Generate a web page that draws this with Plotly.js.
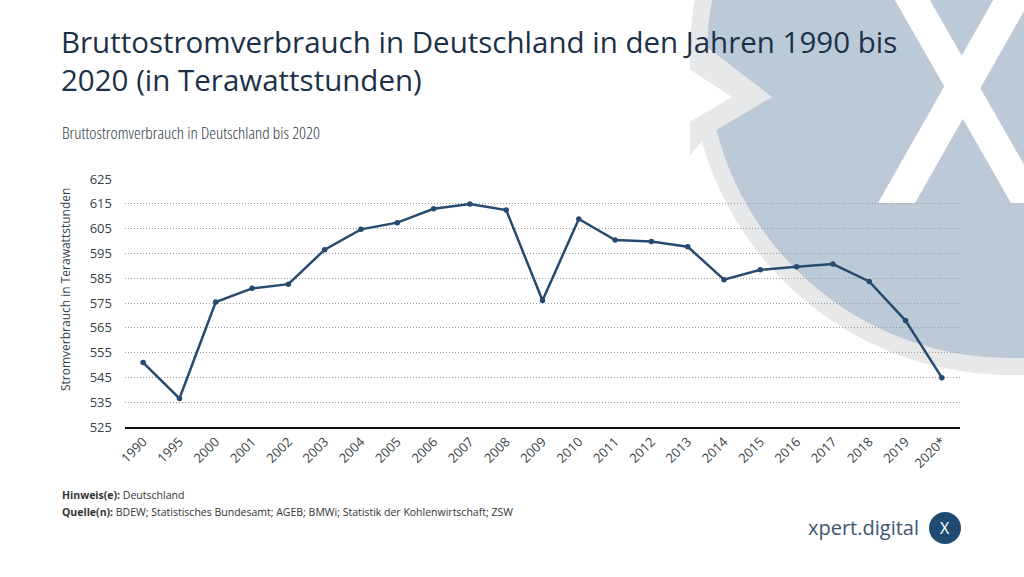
<!DOCTYPE html>
<html><head><meta charset="utf-8">
<script src="https://cdn.plot.ly/plotly-3.0.1.min.js"></script>
<style>
html,body{margin:0;padding:0;background:#fff;}
#chart{width:1024px;height:577px;}
.annotation[data-index="1"] .annotation-text{font-stretch:75%;}
</style></head><body><div id="chart"></div>
<script>
const years = ["1990","1995","2000","2001","2002","2003","2004","2005","2006","2007","2008","2009","2010","2011","2012","2013","2014","2015","2016","2017","2018","2019","2020*"];
const consumption = [551.0, 536.5, 575.4, 580.9, 582.6, 596.5, 604.7, 607.4, 613.0, 614.9, 612.5, 576.0, 608.9, 600.4, 599.8, 597.7, 584.4, 588.4, 589.6, 590.7, 583.7, 567.9, 544.9];
const yTicks = [525, 535, 545, 555, 565, 575, 585, 595, 605, 615, 625];

const titleLines = ["Bruttostromverbrauch in Deutschland in den Jahren 1990 bis", "2020 (in Terawattstunden)"];
const subtitle = "Bruttostromverbrauch in Deutschland bis 2020";
const yTitle = "Stromverbrauch in Terawattstunden";
const note = "<b>Hinweis(e):</b> Deutschland";
const source = "<b>Quelle(n):</b> BDEW; Statistisches Bundesamt; AGEB; BMWi; Statistik der Kohlenwirtschaft; ZSW";
const brand = "xpert.digital";

const W = 1024, H = 577;
const M = {l: 125, r: 64, t: 179, b: 150};
const PW = W - M.l - M.r, PH = H - M.t - M.b;
const px = x => (x - M.l) / PW;
const py = y => (H - M.b - y) / PH;
const path = pts => pts.map((p, i) => (i ? 'L' : 'M') + px(p[0]).toFixed(4) + ',' + py(p[1]).toFixed(4)).join(' ') + ' Z';
const circ = (cx, cy, r, color) => ({type: 'circle', xref: 'paper', yref: 'paper', layer: 'below',
  x0: px(cx - r), x1: px(cx + r), y0: py(cy + r), y1: py(cy - r), fillcolor: color, line: {width: 0}});
const poly = (pts, color) => ({type: 'path', xref: 'paper', yref: 'paper', layer: 'below', path: path(pts), fillcolor: color, line: {width: 0}});

const FONT = "Open Sans, sans-serif";
const ann = (text, x, y, size, color, extra) => Object.assign({text, x: px(x), y: py(y), xref: 'paper', yref: 'paper',
  xanchor: 'left', yanchor: 'middle', align: 'left', showarrow: false, font: {family: FONT, size, color}}, extra || {});

const shapes = [
  circ(1010, 55, 320, '#e7e8e9'),
  circ(1010, 55, 303, '#bccad7'),
  poly([[690, 30], [708, 48], [772, 97], [708, 135], [690, 155]], '#e7e8e9'),
  poly([[660, 67], [686, 67], [732, 97], [686, 124], [660, 124]], '#ffffff'),
  poly([[872, -40], [907, -40], [1046, 203], [1011, 203]], '#ffffff'),
  poly([[878, 203], [915, 203], [1053, -40], [1016, -40]], '#ffffff'),
  circ(945, 528, 16, '#1f4b73')
];

const annotations = [
  ann(titleLines.join('<br>'), 59, 60, 29.5, '#1c3047'),
  ann(subtitle, 60, 132, 17, '#2f3a45', {font: {family: FONT, size: 17, color: '#2f3a45', weight: 300}}),
  ann(yTitle, 65, 290, 12, '#3a3f45', {xanchor: 'center', align: 'center', textangle: -90}),
  ann(note, 60, 495, 10.5, '#333333'),
  ann(source, 60, 512, 10.5, '#333333'),
  ann(brand, 921, 527, 20, '#3c5570', {xanchor: 'right'}),
  ann('X', 945, 528, 16, '#ffffff', {xanchor: 'center', align: 'center'})
];

const trace = {
  type: 'scatter', mode: 'lines+markers', x: years, y: consumption,
  line: {color: '#264b6f', width: 2.5},
  marker: {color: '#264b6f', size: 5.5},
  hoverinfo: 'skip', cliponaxis: false
};

const layout = {
  width: W, height: H, margin: M,
  paper_bgcolor: '#ffffff', plot_bgcolor: 'rgba(0,0,0,0)',
  showlegend: false, hovermode: false,
  font: {family: FONT, color: '#333'},
  xaxis: {type: 'category', range: [-0.5, years.length - 0.5], showgrid: false, zeroline: false,
    showline: true, linecolor: '#111', linewidth: 2, ticks: '', tickangle: -45,
    tickfont: {family: FONT, size: 13, color: '#3a3f45'}},
  yaxis: {range: [525, 625], tickvals: yTicks, ticktext: yTicks.map(String), showgrid: true,
    gridcolor: '#9c9c9c', griddash: '1px,2px', gridwidth: 1, zeroline: false, showline: false, ticks: '',
    ticklabelstandoff: 12, tickfont: {family: FONT, size: 13, color: '#3a3f45'}},
  shapes, annotations
};

Plotly.newPlot('chart', [trace], layout, {displayModeBar: false, staticPlot: true});
</script></body></html>
